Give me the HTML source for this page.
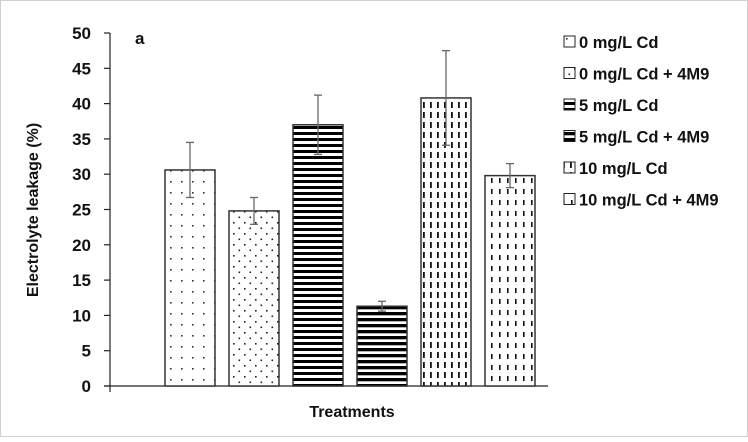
<!DOCTYPE html>
<html><head><meta charset="utf-8"><style>
body{margin:0;background:#fff}
svg text{font-family:"Liberation Sans",sans-serif;font-weight:bold;fill:#111}
</style></head><body>
<svg width="748" height="437" viewBox="0 0 748 437">
<defs>
<pattern id="p0" width="11" height="11" patternUnits="userSpaceOnUse"><rect width="11" height="11" fill="#fff"/><rect x="5" y="5" width="1.6" height="1.6" fill="#333"/></pattern>
<pattern id="p1" width="11" height="11" patternUnits="userSpaceOnUse"><rect width="11" height="11" fill="#fff"/><rect x="2" y="2" width="1.6" height="1.6" fill="#222"/><rect x="7.5" y="7.5" width="1.6" height="1.6" fill="#222"/></pattern>
<pattern id="p2" width="6" height="6" patternUnits="userSpaceOnUse"><rect width="6" height="6" fill="#fff"/><rect y="0" width="6" height="3" fill="#000"/></pattern>
<pattern id="p3" width="6" height="6" patternUnits="userSpaceOnUse"><rect width="6" height="6" fill="#fff"/><rect y="0" width="6" height="3.3" fill="#000"/></pattern>
<pattern id="p4" width="7" height="10" patternUnits="userSpaceOnUse"><rect width="7" height="10" fill="#fff"/><rect x="3" y="2" width="1.8" height="6" fill="#111"/></pattern>
<pattern id="p5" width="8" height="11" patternUnits="userSpaceOnUse"><rect width="8" height="11" fill="#fff"/><rect x="3" y="2" width="1.6" height="5" fill="#111"/></pattern>
</defs>
<rect x="0.5" y="0.5" width="747" height="436" fill="#fff" stroke="#d0d0d0"/>
<g id="axes"></g>
<g id="bars"></g>
<text x="135" y="44" font-size="17">a</text>
<text x="352" y="417" font-size="16" text-anchor="middle">Treatments</text>
<text transform="translate(38,210) rotate(-90)" font-size="16" text-anchor="middle">Electrolyte leakage (%)</text>
<g id="legend"></g>
</svg>
<script>
const categories=["0 mg/L Cd","0 mg/L Cd + 4M9","5 mg/L Cd","5 mg/L Cd + 4M9","10 mg/L Cd","10 mg/L Cd + 4M9"];
const values=[30.6,24.8,37.0,11.3,40.8,29.8];
const errors=[3.9,1.9,4.2,0.7,6.7,1.7];
const yTicks=[0,5,10,15,20,25,30,35,40,45,50];
const NS="http://www.w3.org/2000/svg";
function y(v){return 386-v*(353/50);}
function xc(i){return 190+i*64;}
function mk(tag,attrs,parent){const e=document.createElementNS(NS,tag);for(const k in attrs)e.setAttribute(k,attrs[k]);parent.appendChild(e);return e;}
const axes=document.getElementById('axes');
let yl=mk('line',{x1:110,y1:y(50),x2:110,y2:y(0)+6,stroke:'#222','stroke-width':1.2},axes);


let xl=mk('line',{x1:104,y1:y(0),x2:548,y2:y(0),stroke:'#222','stroke-width':1.2},axes);


yTicks.forEach(t=>{
 let l=mk('line',{x1:104,y1:y(t),x2:110,y2:y(t),stroke:'#222','stroke-width':1.2},axes);
 
 
 let tx=mk('text',{x:91,y:y(t)+6,'font-size':17,'text-anchor':'end'},axes);
 tx.textContent=t;
 
 
});
const bars=document.getElementById('bars');
values.forEach((v,i)=>{
 const c=xc(i);
 let r=mk('rect',{x:c-25,y:y(v),width:50,height:y(0)-y(v),fill:'url(#p'+i+')',stroke:'#333','stroke-width':1.5},bars);
 
 
 const e=errors[i];
 let g=mk('g',{stroke:'#666','stroke-width':1.3},bars);
 
 
 mk('line',{x1:c,y1:y(v+e),x2:c,y2:y(v-e)},g);
 mk('line',{x1:c-4,y1:y(v+e),x2:c+4,y2:y(v+e)},g);
 mk('line',{x1:c-4,y1:y(v-e),x2:c+4,y2:y(v-e)},g);
});
const leg=document.getElementById('legend');
categories.forEach((name,i)=>{
 const ly=48+i*31.5;
 let g=mk('g',{},leg);
 
 
 mk('rect',{x:564,y:ly-12,width:11,height:11,fill:'url(#p'+i+')',stroke:'#222','stroke-width':1},g);
 let t=mk('text',{x:579,y:ly,'font-size':16.5},g);
 t.textContent=name;
});
</script>
</body></html>
